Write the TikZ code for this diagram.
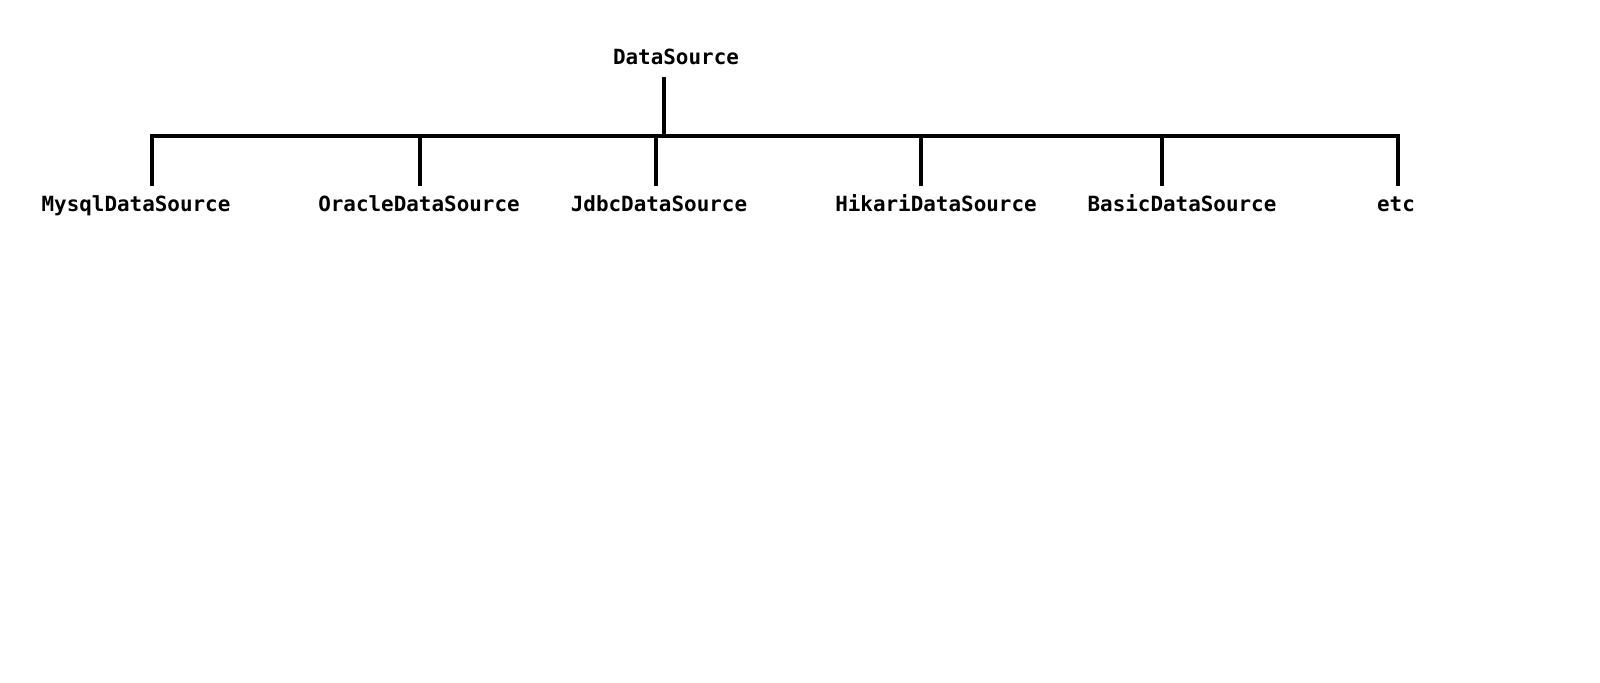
\documentclass[tikz,border=0pt]{standalone}
\usepackage{fontspec}
\setmonofont{DejaVu Sans Mono}

\def\barlevel{136}
\def\labellevel{211}

\begin{document}
\begin{tikzpicture}[x=0.02cm,y=-0.02cm,line width=2.1pt,draw=black]
    \tikzstyle{cls}=[font=\ttfamily\bfseries\fontsize{11.9}{14}\selectfont,inner sep=0pt,anchor=base,text height=0.32cm,text depth=0.08cm]
    \tikzstyle{drop}=[shorten >=0.14cm]
    \tikzstyle{bar}=[line width=2.4pt,line cap=rect]

    \useasboundingbox (0,0) rectangle (1600,683);

    % Draw the root class
    \node[cls] (ds) at (676,64) {DataSource};

    % Draw the implementing classes
    \node[cls] (mysql) at (136,\labellevel) {MysqlDataSource};
    \node[cls] (oracle) at (419,\labellevel) {OracleDataSource};
    \node[cls] (jdbc) at (659,\labellevel) {JdbcDataSource};
    \node[cls] (hikari) at (936,\labellevel) {HikariDataSource};
    \node[cls] (basic) at (1182,\labellevel) {BasicDataSource};
    \node[cls] (etc) at (1396,\labellevel) {etc};

    % Joints on the bar
    \coordinate (top) at (664,\barlevel);
    \coordinate (j-1) at (152,\barlevel);
    \coordinate (j-2) at (420,\barlevel);
    \coordinate (j-3) at (656,\barlevel);
    \coordinate (j-4) at (921,\barlevel);
    \coordinate (j-5) at (1162,\barlevel);
    \coordinate (j-6) at (1398,\barlevel);

    % Connect the root with the bar, and the bar with every class
    \draw[shorten <=0.15cm] (ds.south -| top) -- (top);
    \draw[bar] (j-1) -- (j-6);
    \draw[drop] (j-1) -- (j-1 |- mysql.north);
    \draw[drop] (j-2) -- (j-2 |- oracle.north);
    \draw[drop] (j-3) -- (j-3 |- jdbc.north);
    \draw[drop] (j-4) -- (j-4 |- hikari.north);
    \draw[drop] (j-5) -- (j-5 |- basic.north);
    \draw[drop] (j-6) -- (j-6 |- etc.north);
\end{tikzpicture}
\end{document}
